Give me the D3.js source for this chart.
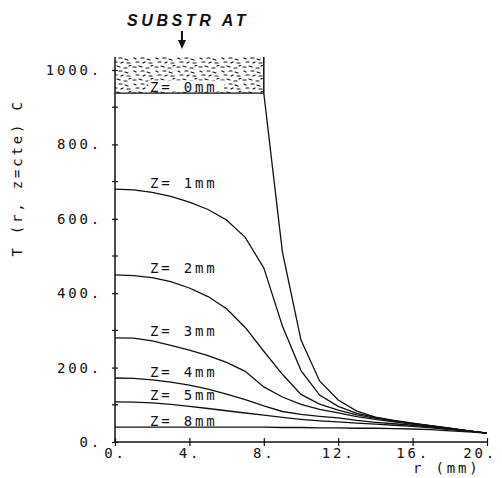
<!DOCTYPE html>
<html>
<head>
<meta charset="utf-8">
<script src="https://cdn.jsdelivr.net/npm/d3@7"></script>
<style>
  body { margin: 0; background: #fff; }
  svg { display: block; }
  .mono { font-family: "DejaVu Sans Mono", monospace; font-size: 14px; letter-spacing: 2.8px; fill: #111; }
</style>
</head>
<body>
<svg id="chart"></svg>
<script>
// radius grid (mm)
const radius = [0, 1, 2, 3, 4, 5, 6, 7, 8, 9, 10, 11, 12, 13, 14, 15, 16, 17, 18, 19, 20];

// temperature profiles T(r) at each depth z
const zNames = ["Z= 0mm", "Z= 1mm", "Z= 2mm", "Z= 3mm", "Z= 4mm", "Z= 5mm", "Z= 8mm"];
const tZ0 = [938, 938, 938, 938, 938, 938, 938, 938, 938, 511, 274, 164, 113, 83, 67, 58, 51, 44, 37, 30, 24];
const tZ1 = [680, 678, 671, 660, 645, 625, 597, 550, 468, 312, 192, 126, 96, 77, 66, 57, 50, 43, 37, 30, 24];
const tZ2 = [449, 447, 442, 431, 414, 391, 358, 308, 244, 182, 128, 102, 86, 73, 64, 56, 49, 43, 36, 30, 24];
const tZ3 = [280, 279, 272, 260, 247, 232, 214, 190, 148, 121, 101, 88, 78, 68, 61, 54, 48, 42, 36, 30, 24];
const tZ4 = [172, 171, 167, 161, 153, 142, 129, 114, 97, 82, 74, 69, 65, 58, 53, 49, 45, 40, 35, 30, 24];
const tZ5 = [108, 107, 105, 101, 96, 90, 84, 78, 72, 66, 61, 57, 54, 51, 48, 45, 42, 38, 33, 29, 24];
const tZ8 = [40, 40, 40, 40, 40, 40, 40, 40, 40, 39, 39, 38, 38, 37, 37, 36, 35, 33, 30, 27, 24];
const seriesT = [tZ0, tZ1, tZ2, tZ3, tZ4, tZ5, tZ8];

// substrate block (r range, T range)
const substratR = [0, 8];
const substratT = [938, 1035];

// axes ticks
const xTicks = [0, 4, 8, 12, 16, 20];
const yTicks = [0, 200, 400, 600, 800, 1000];
const yMinor = [100, 300, 500, 700, 900];

const width = 502, height = 478;
const svg = d3.select("#chart").attr("width", width).attr("height", height);

const x = d3.scaleLinear().domain([0, 20]).range([115, 487]);
const y = d3.scaleLinear().domain([0, 1000]).range([442, 70]);

// stipple pattern for substrate
const defs = svg.append("defs");
const pat = defs.append("pattern")
  .attr("id", "stipple")
  .attr("patternUnits", "userSpaceOnUse")
  .attr("width", 22).attr("height", 13);
const dashes = [
  [1, 2, 4, 2], [7, 1, 10, 2], [14, 3, 17, 3], [19, 1, 21, 0],
  [2, 6, 4, 7], [9, 6, 12, 6], [15, 7, 18, 8],
  [4, 10, 7, 10], [11, 11, 13, 10], [17, 11, 20, 11]
];
pat.selectAll("line").data(dashes).enter().append("line")
  .attr("x1", d => d[0]).attr("y1", d => d[1])
  .attr("x2", d => d[2]).attr("y2", d => d[3])
  .attr("stroke", "#111").attr("stroke-width", 1.2)
  .attr("stroke-linecap", "round");

svg.append("rect")
  .attr("x", x(substratR[0]))
  .attr("y", y(substratT[1]))
  .attr("width", x(substratR[1]) - x(substratR[0]))
  .attr("height", y(substratT[0]) - y(substratT[1]))
  .attr("fill", "url(#stipple)");
svg.append("line")
  .attr("x1", x(substratR[1])).attr("x2", x(substratR[1]))
  .attr("y1", y(substratT[1])).attr("y2", y(substratT[0]))
  .attr("stroke", "#111").attr("stroke-width", 1.5);

// curves
const line = d3.line()
  .x((d, i) => x(radius[i]))
  .y(d => y(d));

svg.append("g")
  .selectAll("path")
  .data(seriesT)
  .enter()
  .append("path")
  .attr("d", d => line(d))
  .attr("fill", "none")
  .attr("stroke", "#111")
  .attr("stroke-width", 1.3);

// curve labels
const labels = svg.append("g");
seriesT.forEach((t, i) => {
  const lx = x(0) + 35, ly = y(t[0]) - 1.5;
  if (i === 0) {
    labels.append("rect")
      .attr("x", lx - 2).attr("y", ly - 11)
      .attr("width", 76).attr("height", 11)
      .attr("fill", "#fff");
  }
  labels.append("text")
    .attr("class", "mono")
    .attr("x", lx).attr("y", ly)
    .text(zNames[i]);
});

// y axis
const yAxis = svg.append("g")
  .attr("transform", `translate(${x(0)},0)`)
  .call(d3.axisLeft(y).tickValues(yTicks).tickSize(3).tickFormat(d => d + "."));
yAxis.attr("font-family", null).attr("font-size", null);
yAxis.select(".domain").remove();
yAxis.selectAll(".tick line").attr("x1", 3).attr("stroke", "#111").attr("stroke-width", 1.2);
yAxis.selectAll(".tick text")
  .attr("class", "mono")
  .attr("x", -13);

svg.append("g")
  .selectAll("line")
  .data(yMinor)
  .enter()
  .append("line")
  .attr("x1", x(0) - 3).attr("x2", x(0) + 3)
  .attr("y1", d => y(d)).attr("y2", d => y(d))
  .attr("stroke", "#111").attr("stroke-width", 1.2);

svg.append("line")
  .attr("x1", x(0)).attr("x2", x(0))
  .attr("y1", y(0)).attr("y2", y(substratT[1]))
  .attr("stroke", "#111").attr("stroke-width", 1.5);

// x axis
const xAxis = svg.append("g")
  .attr("transform", `translate(0,${y(0)})`)
  .call(d3.axisBottom(x).tickValues(xTicks).tickSize(4).tickFormat(d => d + "."));
xAxis.attr("font-family", null).attr("font-size", null);
xAxis.select(".domain").attr("stroke", "#111").attr("stroke-width", 1.5).attr("d", `M${x(0)},0H${x(20)}`);
xAxis.selectAll(".tick line").attr("y1", -4).attr("stroke", "#111").attr("stroke-width", 1.2);
xAxis.selectAll(".tick text")
  .attr("class", "mono")
  .attr("y", 6)
  .attr("dx", 0);
// keep the last label inside the page
xAxis.selectAll(".tick text").each(function () {
  const b = this.getBBox();
  const t = d3.select(this.parentNode).attr("transform");
  const tx = +t.match(/translate\(([-\d.]+)/)[1];
  const over = tx + b.x + b.width - 497;
  if (over > 0) d3.select(this).attr("dx", -over);
});

// axis titles
svg.append("text")
  .attr("class", "mono")
  .attr("transform", "translate(22,178) rotate(-90)")
  .attr("text-anchor", "middle")
  .text("T (r, z=cte) C");

svg.append("text")
  .attr("class", "mono")
  .attr("x", 413).attr("y", 473)
  .text("r (mm)");

// substrate annotation
svg.append("text")
  .attr("x", 127).attr("y", 26)
  .attr("font-family", "Liberation Sans, Arial, sans-serif")
  .attr("font-weight", "bold")
  .attr("font-style", "italic")
  .attr("font-size", 16)
  .attr("letter-spacing", 3.6)
  .attr("fill", "#111")
  .text("SUBSTR AT");

const ax = x(3.6);
svg.append("line")
  .attr("x1", ax).attr("x2", ax)
  .attr("y1", 31).attr("y2", 42)
  .attr("stroke", "#111").attr("stroke-width", 2);
svg.append("path")
  .attr("d", `M${ax - 4},40L${ax + 4},40L${ax},49Z`)
  .attr("fill", "#111");
</script>
</body>
</html>
